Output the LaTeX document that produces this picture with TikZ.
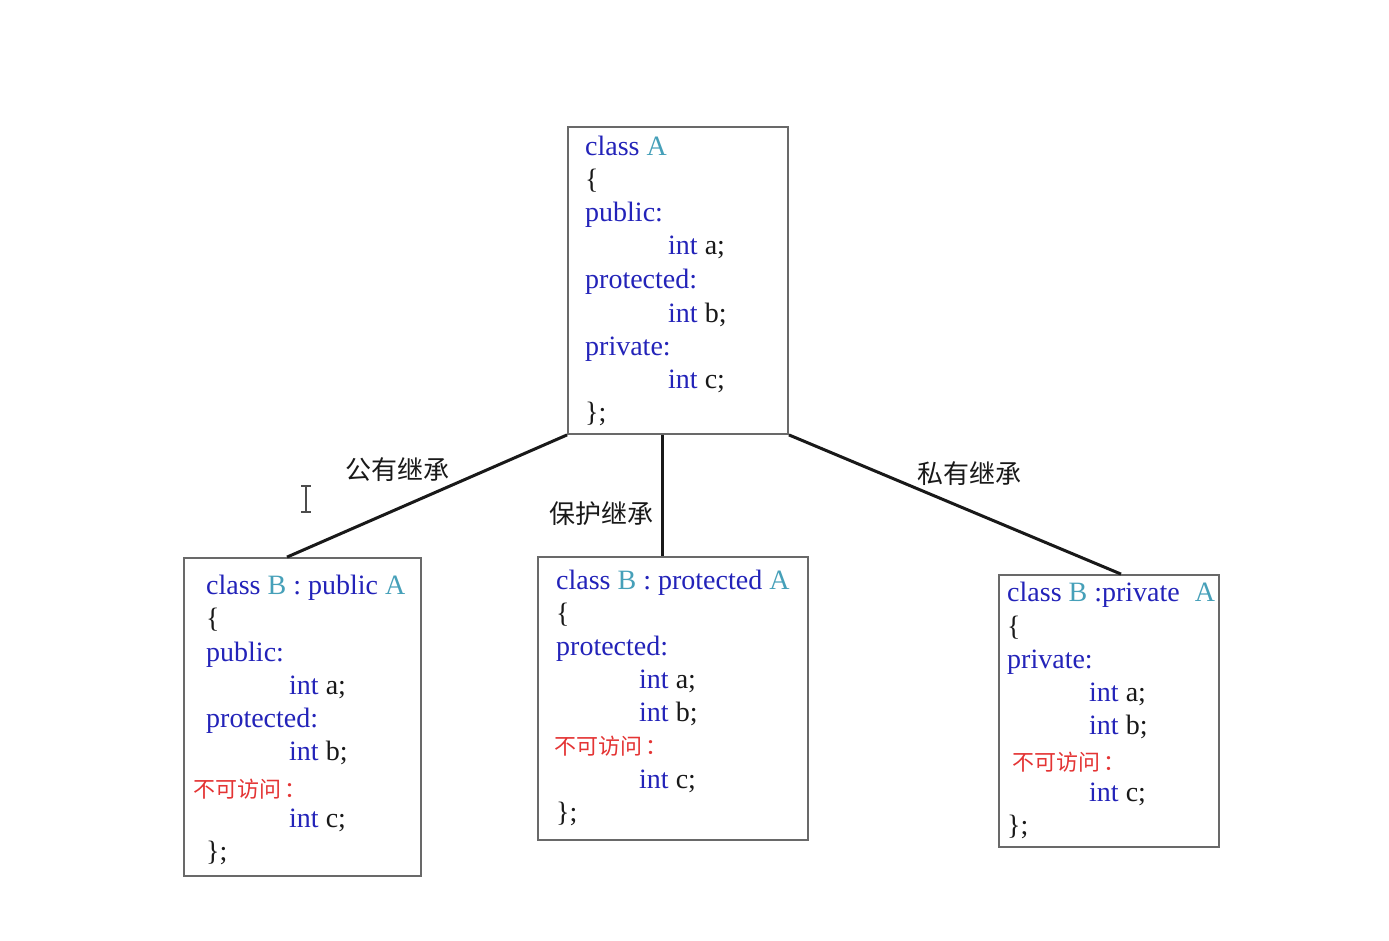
\documentclass[tikz,border=0pt]{standalone}
\usepackage{fontspec}
\setmainfont{Liberation Serif}
\newfontfamily\cjk{Noto Sans CJK SC}
\definecolor{kw}{RGB}{35,35,185}
\definecolor{ty}{RGB}{70,160,185}
\definecolor{rd}{RGB}{228,52,52}
\definecolor{bx}{RGB}{105,105,105}
\definecolor{tx}{RGB}{25,25,25}
\newcommand{\kwd}[1]{\textcolor{kw}{#1}}
\newcommand{\tyd}[1]{\textcolor{ty}{#1}}
\tikzset{
  classbox/.style={draw=bx, line width=1.8pt, rectangle, inner sep=0pt, fill=white},
  ln/.style={anchor=base west, inner sep=0pt, yshift=-9pt,
             font=\fontsize{28}{33}\selectfont, text=tx},
  na/.style={anchor=base west, inner sep=0pt, yshift=-8pt,
             font=\cjk\fontsize{22}{26}\selectfont, text=rd},
  lab/.style={inner sep=0pt, font=\cjk\fontsize{26}{30}\selectfont, text=tx},
  conn/.style={line width=3pt, draw=black!90}
}
\begin{document}
\begin{tikzpicture}[x=1pt,y=-1pt]
\useasboundingbox (0,0) rectangle (1389,941);
\fill[white] (0,0) rectangle (1389,941);

% boxes
\node[classbox, minimum width=220pt, minimum height=307pt] (A) at (678,280.5) {};
\node[classbox, minimum width=237pt, minimum height=318pt] (B1) at (302.5,717) {};
\node[classbox, minimum width=270pt, minimum height=283pt] (B2) at (673,698.5) {};
\node[classbox, minimum width=220pt, minimum height=272pt] (B3) at (1109,711) {};

% connectors
\draw[conn] (A.south west) -- ([xshift=-15.5pt]B1.north);
\draw[conn] ([xshift=-16pt]A.south) -- ([xshift=-16pt]A.south |- B2.north);
\draw[conn] (A.south east) -- ([xshift=12pt]B3.north);

% connector labels
\node[lab] (l1) at (397,470) {公有继承};
\node[lab] (l2) at (601,514) {保护继承};
\node[lab] (l3) at (969,474) {私有继承};

% text cursor
\draw[line width=1.4pt, black!70] (306,486) -- (306,512) (301,486) -- (311,486) (301,512) -- (311,512);

% class A
\node[ln] (a1) at (585,147) {\kwd{class} \tyd{A}};
\node[ln] (a2) at (585,180) {\{};
\node[ln] (a3) at (585,213) {\kwd{public:}};
\node[ln] (a4) at (668,246) {\kwd{int} a;};
\node[ln] (a5) at (585,280) {\kwd{protected:}};
\node[ln] (a6) at (668,313) {\kwd{int} b;};
\node[ln] (a7) at (585,346) {\kwd{private:}};
\node[ln] (a8) at (668,379) {\kwd{int} c;};
\node[ln] (a9) at (585,412) {\};};

% public
\node[ln] (b1) at (206,585) {\kwd{class} \tyd{B} \kwd{: public} \tyd{A}};
\node[ln] (b2) at (206,618) {\{};
\node[ln] (b3) at (206,652) {\kwd{public:}};
\node[ln] (b4) at (289,685) {\kwd{int} a;};
\node[ln] (b5) at (206,718) {\kwd{protected:}};
\node[ln] (b6) at (289,751) {\kwd{int} b;};
\node[na] (b7) at (193,789) {不可访问\,：};
\node[ln] (b8) at (289,818) {\kwd{int} c;};
\node[ln] (b9) at (206,851) {\};};

% protected
\node[ln] (c1) at (556,580) {\kwd{class} \tyd{B} \kwd{: protected} \tyd{A}};
\node[ln] (c2) at (556,613) {\{};
\node[ln] (c3) at (556,646) {\kwd{protected:}};
\node[ln] (c4) at (639,679) {\kwd{int} a;};
\node[ln] (c5) at (639,712) {\kwd{int} b;};
\node[na] (c6) at (554,746) {不可访问\,：};
\node[ln] (c7) at (639,779) {\kwd{int} c;};
\node[ln] (c8) at (556,812) {\};};

% private
\node[ln] (d1) at (1007,592) {\kwd{class} \tyd{B} \kwd{:private}\hspace{8pt} \tyd{A}};
\node[ln] (d2) at (1007,626) {\{};
\node[ln] (d3) at (1007,659) {\kwd{private:}};
\node[ln] (d4) at (1089,692) {\kwd{int} a;};
\node[ln] (d5) at (1089,725) {\kwd{int} b;};
\node[na] (d6) at (1012,762) {不可访问\,：};
\node[ln] (d7) at (1089,792) {\kwd{int} c;};
\node[ln] (d8) at (1007,825) {\};};
\end{tikzpicture}
\end{document}
